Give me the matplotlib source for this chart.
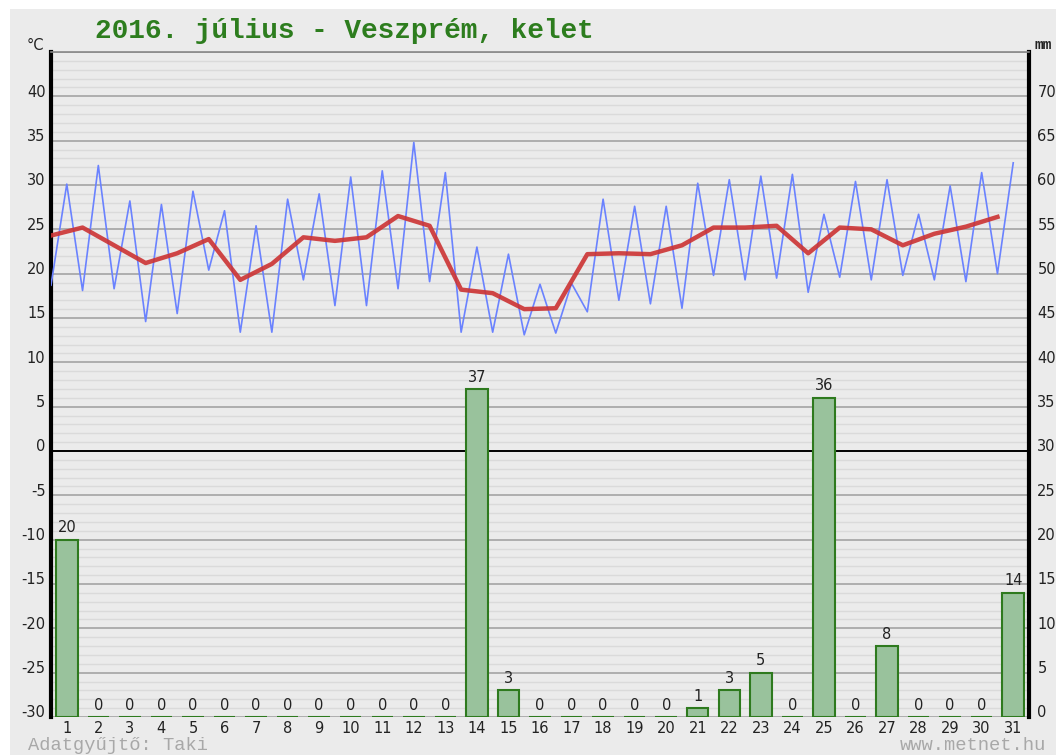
import matplotlib
matplotlib.use("Agg")
import matplotlib.pyplot as plt
import numpy as np
from matplotlib.transforms import ScaledTranslation
from matplotlib.patches import Rectangle

# ---- data ----
days = list(range(1, 32))
t_min = [18.7, 18.1, 18.3, 14.6, 15.5, 20.4, 13.4, 13.4, 19.3, 16.4, 16.4, 18.3, 19.1, 13.4, 13.4,
         13.1, 13.3, 15.7, 17.0, 16.6, 16.1, 19.8, 19.3, 19.5, 17.9, 19.6, 19.3, 19.8, 19.3, 19.1, 20.0]
t_max = [30.1, 32.2, 28.2, 27.8, 29.3, 27.1, 25.4, 28.4, 29.0, 30.9, 31.6, 34.8, 31.4, 23.0, 22.2,
         18.8, 18.9, 28.4, 27.6, 27.6, 30.2, 30.6, 31.0, 31.2, 26.7, 30.4, 30.6, 26.7, 29.9, 31.4, 32.5]
t_mean = [24.3, 25.2, 23.2, 21.2, 22.3, 23.9, 19.3, 21.1, 24.1, 23.7, 24.1, 26.5, 25.4, 18.2, 17.8,
          16.0, 16.1, 22.2, 22.3, 22.2, 23.2, 25.2, 25.2, 25.4, 22.3, 25.2, 25.0, 23.2, 24.5, 25.3, 26.4]
precip = [20, 0, 0, 0, 0, 0, 0, 0, 0, 0, 0, 0, 0, 37, 3,
          0, 0, 0, 0, 0, 1, 3, 5, 0, 36, 0, 8, 0, 0, 0, 14]
temp_ticks = list(range(-30, 45, 5))
mm_ticks = list(range(0, 75, 5))
title = "2016. július - Veszprém, kelet"

BG = "#ebebeb"
W, H = 1056, 755
fig = plt.figure(figsize=(W / 100, H / 100), dpi=100, facecolor="white")
fig.patches.append(Rectangle((10 / W, 0), 1 - 10 / W, 1 - 9 / H, transform=fig.transFigure,
                             facecolor=BG, edgecolor="none", zorder=-10))

L, R, T, B = 51, 1029, 52, 717
ax = fig.add_axes([L / W, 1 - B / H, (R - L) / W, (B - T) / H])
ax.set_facecolor(BG)
ax.set_xlim(0.5, 31.5)
ax.set_ylim(-30, 45)

# grid
for v in range(-30, 46):
    if v == 0:
        continue
    if v % 5 == 0:
        ax.axhline(v, color="#a3a3a3", lw=1.2, zorder=1)
    else:
        ax.axhline(v, color="#dadada", lw=1.0, zorder=0.5)
ax.axhline(0, color="black", lw=1.4, zorder=2)

# blue min/max zigzag
xs, ys = [], []
for d, lo, hi in zip(days, t_min, t_max):
    xs += [d - 0.5, d]
    ys += [lo, hi]
ax.plot(xs, ys, color="#6a82ff", lw=1.2, zorder=3)
# red daily mean
ax.plot([d - 0.5 for d in days], t_mean, color="#cc3333", lw=3.2, alpha=0.9, zorder=4,
        solid_joinstyle="round")

for s in ["left", "right"]:
    ax.spines[s].set_linewidth(3)
    ax.spines[s].set_color("black")
ax.spines["top"].set_color("#888888")
ax.spines["top"].set_linewidth(1.2)
ax.spines["bottom"].set_visible(False)

ax.set_yticks(temp_ticks)
ax.set_yticklabels([str(v) for v in temp_ticks])
ax.tick_params(axis="y", length=0, pad=4, labelsize=10.5, labelcolor="#222222")
ax.set_xticks(days)
ax.set_xticklabels([str(d) for d in days])
ax.tick_params(axis="x", length=0, pad=3, labelsize=10.5, labelcolor="#222222")
off = ScaledTranslation(0, 4 / 72, fig.dpi_scale_trans)
for lbl in ax.get_yticklabels():
    lbl.set_transform(lbl.get_transform() + off)

# precipitation on mm axis
ax2 = ax.twinx()
ax2.set_ylim(0, 75)
ax2.bar(days, precip, width=0.68, color="#99c29c", edgecolor="#2e7a1e", linewidth=1.5, zorder=5)
for d, p in zip(days, precip):
    ax2.text(d, p + 0.5, f"{p:.0f}", ha="center", va="bottom", fontsize=10.5, color="#222222")
ax2.set_yticks(mm_ticks)
ax2.set_yticklabels([str(v) for v in mm_ticks])
ax2.tick_params(axis="y", length=0, pad=6, labelsize=10.5, labelcolor="#222222")
for lbl in ax2.get_yticklabels():
    lbl.set_transform(lbl.get_transform() + off)
for s in ax2.spines.values():
    s.set_visible(False)

# texts
fig.text(95 / W, 1 - 31 / H, title, ha="left", va="center", family="Liberation Mono",
         fontweight="bold", fontsize=20, color="#2d7d1e")
fig.text(27 / W, 1 - 45 / H, "°C", ha="left", va="center", fontsize=10.5, color="#222222")
fig.text(1035 / W, 1 - 45 / H, "mm", ha="left", va="center", family="Liberation Mono",
         fontsize=10.5, color="#222222", fontweight="bold")
fig.text(28 / W, 1 - 746 / H, "Adatgyűjtő: Taki", ha="left", va="center",
         family="Liberation Mono", fontsize=13.5, color="#a8a8a8")
fig.text(900 / W, 1 - 746 / H, "www.metnet.hu", ha="left", va="center",
         family="Liberation Mono", fontsize=13.5, color="#a8a8a8")

fig.savefig("out.png", dpi=100, facecolor="white")
